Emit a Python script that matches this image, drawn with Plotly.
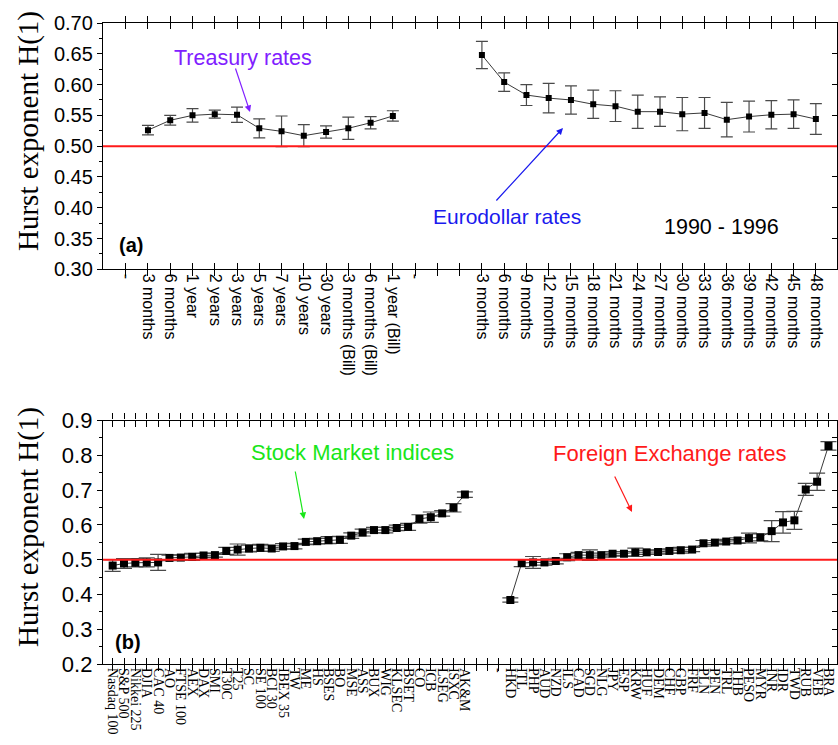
import plotly.graph_objects as go

# ---------------- data ----------------
treasury_labels = ["3 months", "6 months", "1 year", "2 years", "3 years", "5 years",
                   "7 years", "10 years", "30 years", "3 months (Bill)",
                   "6 months (Bill)", "1 year (Bill)"]
treasury_h = [0.526, 0.542, 0.550, 0.552, 0.551, 0.529, 0.524, 0.517, 0.523, 0.529, 0.538, 0.549]
treasury_err = [0.0076, 0.008, 0.011, 0.0065, 0.0124, 0.0154, 0.025, 0.018, 0.010, 0.018, 0.010, 0.0085]

euro_labels = ["3 months", "6 months", "9 months", "12 months", "15 months", "18 months",
               "21 months", "24 months", "27 months", "30 months", "33 months", "36 months",
               "39 months", "42 months", "45 months", "48 months"]
euro_h = [0.648, 0.604, 0.583, 0.578, 0.575, 0.568, 0.565, 0.556, 0.556, 0.552, 0.554,
          0.543, 0.548, 0.551, 0.552, 0.544]
euro_err = [0.022, 0.015, 0.017, 0.024, 0.023, 0.023, 0.025, 0.027, 0.024, 0.027, 0.025,
            0.028, 0.025, 0.023, 0.023, 0.025]

stock_labels = ["Nasdaq 100", "S&P 500", "Nikkei 225", "DJIA", "CAC 40", "AO", "FTSE 100",
                "AEX", "DAX", "SMI", "T30C", "T25", "SC", "SE 100", "BCI 30", "IBEX 35",
                "TW", "ME", "HS", "BSES", "BO", "MSE", "ASS", "BUX", "WIG", "KLSEC",
                "BSET", "CO", "ICB", "LSEG", "ISXC", "AK&M"]
stock_h = [0.483, 0.489, 0.491, 0.492, 0.492, 0.505, 0.506, 0.508, 0.512, 0.513, 0.525,
           0.529, 0.532, 0.534, 0.532, 0.538, 0.539, 0.551, 0.553, 0.556, 0.557, 0.569,
           0.578, 0.585, 0.585, 0.591, 0.594, 0.617, 0.622, 0.633, 0.649, 0.687]
stock_err = [0.017, 0.014, 0.012, 0.013, 0.023, 0.008, 0.008, 0.010, 0.006, 0.006, 0.010,
             0.016, 0.010, 0.010, 0.008, 0.008, 0.008, 0.008, 0.008, 0.010, 0.010, 0.008,
             0.010, 0.008, 0.008, 0.008, 0.010, 0.012, 0.015, 0.008, 0.012, 0.008]

fx_labels = ["HKD", "ITL", "PHP", "AUD", "NZD", "ILS", "CAD", "SGD", "NLG", "JPY", "ESP",
             "KRW", "HUF", "DEM", "CHF", "GBP", "FRF", "PLN", "PEN", "TRL", "THB", "PESO",
             "MYR", "INR", "IDR", "TWD", "RUB", "VEB", "BRA"]
fx_h = [0.384, 0.490, 0.492, 0.492, 0.496, 0.507, 0.513, 0.513, 0.513, 0.517, 0.517,
        0.521, 0.521, 0.522, 0.525, 0.527, 0.529, 0.547, 0.549, 0.552, 0.555, 0.562,
        0.564, 0.582, 0.607, 0.613, 0.702, 0.724, 0.827]
fx_err = [0.006, 0.010, 0.017, 0.008, 0.008, 0.010, 0.008, 0.015, 0.006, 0.006, 0.006,
          0.012, 0.006, 0.006, 0.006, 0.008, 0.006, 0.008, 0.006, 0.006, 0.008, 0.014,
          0.010, 0.030, 0.031, 0.026, 0.017, 0.025, 0.012]

RANDOM_WALK_H = 0.5
GAP_MARK = "-"

# ---------------- category slots ----------------
# top panel: "-", treasury..., "-", two empty slots, eurodollar...
top_slots = [GAP_MARK] + treasury_labels + [GAP_MARK, "", ""] + euro_labels
treasury_x = list(range(1, 1 + len(treasury_labels)))
euro_start = len(treasury_labels) + 4
euro_x = list(range(euro_start, euro_start + len(euro_labels)))

# bottom panel: stocks..., two empty slots, "-", currencies...
bottom_slots = stock_labels + ["", "", GAP_MARK] + fx_labels
stock_x = list(range(len(stock_labels)))
fx_start = len(stock_labels) + 3
fx_x = list(range(fx_start, fx_start + len(fx_labels)))

# ---------------- geometry helpers ----------------
W, H = 838, 745
ML, MR, MT, MB = 103, 1, 23, 81
PW, PH = W - ML - MR, H - MT - MB


def px_x(px):
    return (px - ML) / PW


def px_y(py):
    return (H - MB - py) / PH


top_dom = [px_y(269.3), 1.0]
bot_dom = [0.0, px_y(420.5)]

SANS = "Liberation Sans, Arial, sans-serif"
SERIF = "Liberation Serif, Times New Roman, serif"
LINE_COL = "#3a3a3a"
ERR_COL = "#4a4a4a"

fig = go.Figure()


def add_series(x, y, err, xa, ya, msize, cap):
    fig.add_trace(go.Scatter(
        x=x, y=y, xaxis=xa, yaxis=ya, mode="lines+markers",
        line=dict(color=LINE_COL, width=1),
        marker=dict(symbol="square", size=msize, color="black"),
        error_y=dict(type="data", array=err, visible=True, color=ERR_COL,
                     thickness=1.2, width=cap),
        showlegend=False, hoverinfo="x+y"))


add_series(treasury_x, treasury_h, treasury_err, "x", "y", 6, 6)
add_series(euro_x, euro_h, euro_err, "x", "y", 6, 6)
add_series(stock_x, stock_h, stock_err, "x2", "y2", 8, 8)
add_series(fx_x, fx_h, fx_err, "x2", "y2", 8, 8)

# invisible traces so the right-hand tick axes get drawn
for xa, ya in (("x", "y3"), ("x2", "y4")):
    fig.add_trace(go.Scatter(x=[0], y=[RANDOM_WALK_H], xaxis=xa, yaxis=ya, mode="markers",
                             marker=dict(opacity=0), showlegend=False, hoverinfo="skip"))

# reference line H = 0.5
for xr, yr in (("x domain", "y"), ("x2 domain", "y2")):
    fig.add_shape(type="line", xref=xr, yref=yr, x0=0, x1=1,
                  y0=RANDOM_WALK_H, y1=RANDOM_WALK_H,
                  line=dict(color="#ff1a1a", width=2))

xcommon = dict(ticks="inside", ticklen=6, tickwidth=1, tickcolor="black",
               showline=True, linecolor="black", linewidth=1.3, mirror="allticks",
               showgrid=False, zeroline=False, tickangle=90, domain=[0, 1])

fig.update_layout(
    width=W, height=H, paper_bgcolor="white", plot_bgcolor="white",
    margin=dict(l=ML, r=MR, t=MT, b=MB), showlegend=False,
    xaxis=dict(**xcommon, anchor="y", range=[-1.02, 31.95],
               tickmode="array", tickvals=list(range(len(top_slots))), ticktext=top_slots,
               tickfont=dict(family=SANS, size=16, color="black")),
    xaxis2=dict(**xcommon, anchor="y2", range=[-0.85, 63.75],
                tickmode="array", tickvals=list(range(len(bottom_slots))), ticktext=bottom_slots,
                tickfont=dict(family=SERIF, size=14, color="black")),
    yaxis=dict(domain=top_dom, anchor="x", range=[0.3, 0.7], dtick=0.05, tickformat=".2f",
               ticks="outside", ticklen=5, tickcolor="black", showline=True,
               linecolor="black", linewidth=1.3, showgrid=False, zeroline=False,
               minor=dict(dtick=0.025, ticks="outside", ticklen=3, tickcolor="black", showgrid=False),
               tickfont=dict(family=SANS, size=20, color="black")),
    yaxis3=dict(overlaying="y", side="right", anchor="x", range=[0.3, 0.7], dtick=0.05,
                ticks="inside", ticklen=5, tickcolor="black", showticklabels=False,
                showline=True, linecolor="black", linewidth=1.3, showgrid=False, zeroline=False),
    yaxis2=dict(domain=bot_dom, anchor="x2", range=[0.2, 0.9], dtick=0.1, tickformat=".1f",
                ticks="outside", ticklen=5, tickcolor="black", showline=True,
                linecolor="black", linewidth=1.3, showgrid=False, zeroline=False,
                minor=dict(dtick=0.05, ticks="outside", ticklen=3, tickcolor="black", showgrid=False),
                tickfont=dict(family=SANS, size=22, color="black")),
    yaxis4=dict(overlaying="y2", side="right", anchor="x2", range=[0.2, 0.9], dtick=0.05,
                ticks="inside", ticklen=5, tickcolor="black", showticklabels=False,
                showline=True, linecolor="black", linewidth=1.3, showgrid=False, zeroline=False),
)


def label(text, px, py, size, color="black", family=SANS, angle=0, bold=False):
    fig.add_annotation(text=f"<b>{text}</b>" if bold else text,
                       xref="paper", yref="paper", x=px_x(px), y=px_y(py),
                       xanchor="center", yanchor="middle", showarrow=False,
                       textangle=angle, font=dict(family=family, size=size, color=color))


def arrow(tail, head, color):
    fig.add_annotation(text="", xref="paper", yref="paper",
                       x=px_x(head[0]), y=px_y(head[1]),
                       ax=tail[0] - head[0], ay=tail[1] - head[1],
                       showarrow=True, arrowhead=2, arrowsize=1.1, arrowwidth=1.2,
                       arrowcolor=color)


# axis titles
label("Hurst exponent H(1)", 28, 131, 29, family=SERIF, angle=-90)
label("Hurst exponent H(1)", 28, 527, 29, family=SERIF, angle=-90)

# panel (a) annotations
label("Treasury rates", 242.5, 57.5, 21.5, color="#8020ff")
arrow((235, 67), (250, 112), "#8020ff")
label("Eurodollar rates", 507.5, 216.5, 21, color="#1a1aee")
arrow((495, 202), (563, 128), "#1a1aee")
label("1990 - 1996", 721.5, 227, 21.5)
label("(a)", 130.5, 245, 20, bold=True)

# panel (b) annotations
label("Stock Market indices", 352.5, 452, 22, color="#19e619")
arrow((295, 470), (304, 519), "#19e619")
label("Foreign Exchange rates", 670, 454, 22, color="#ff1a1a")
arrow((614, 475), (632, 512), "#ff1a1a")
label("(b)", 127.5, 641.5, 20, bold=True)

fig.write_html("out.html")
